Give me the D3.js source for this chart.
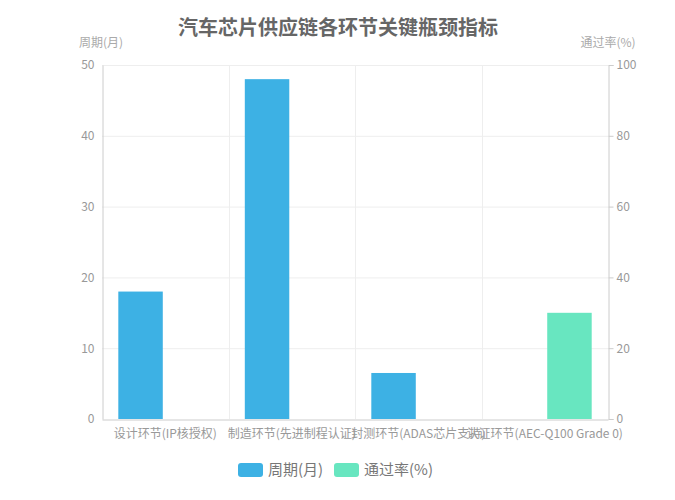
<!DOCTYPE html>
<html>
<head>
<meta charset="utf-8">
<script src="https://cdn.jsdelivr.net/npm/d3@7"></script>
<style>
  body { margin: 0; background: #fff; }
  text { font-family: "Noto Sans CJK SC", "Noto Sans", sans-serif; }
</style>
</head>
<body>
<div id="chart"></div>
<script>
// data
var categories = ['设计环节(IP核授权)', '制造环节(先进制程认证)', '封测环节(ADAS芯片支持)', '认证环节(AEC-Q100 Grade 0)'];
var seriesNames = ['周期(月)', '通过率(%)'];
var periodValues = [18, 48, 6.5, 0];
var passRateValues = [0, 0, 0, 30];
var leftTicks = [0, 10, 20, 30, 40, 50];
var rightTicks = [0, 20, 40, 60, 80, 100];

var colors = ['#3db1e4', '#68e6c0'];
var width = 675, height = 500;
var plotLeft = 102, plotRight = 608, plotTop = 65, plotBottom = 419;

var svg = d3.select('#chart').append('svg')
  .attr('width', width)
  .attr('height', height);

var scaleX = d3.scaleBand().domain(categories).range([plotLeft, plotRight]).padding(0);
var scaleInner = d3.scaleBand().domain(seriesNames)
  .range([0, scaleX.bandwidth()])
  .paddingInner(0.1).paddingOuter(0.33);
var scaleY = d3.scaleLinear().domain([0, 50]).range([plotBottom, plotTop]);
var scaleY2 = d3.scaleLinear().domain([0, 100]).range([plotBottom, plotTop]);

// title
svg.append('text')
  .attr('x', 338).attr('y', 35)
  .attr('text-anchor', 'middle')
  .attr('font-size', 20).attr('font-weight', 'bold')
  .attr('fill', '#666')
  .text('汽车芯片供应链各环节关键瓶颈指标');

// axis names
svg.append('text').attr('x', 101).attr('y', 47).attr('text-anchor', 'middle')
  .attr('font-size', 12).attr('fill', '#aaa').text('周期(月)');
svg.append('text').attr('x', 608).attr('y', 47).attr('text-anchor', 'middle')
  .attr('font-size', 12).attr('fill', '#aaa').text('通过率(%)');

// horizontal grid
svg.append('g').selectAll('line').data(leftTicks.slice(1)).enter().append('line')
  .attr('x1', plotLeft).attr('x2', plotRight)
  .attr('y1', function(d) { return scaleY(d) + 0.5; })
  .attr('y2', function(d) { return scaleY(d) + 0.5; })
  .attr('stroke', '#eee');

// vertical split lines at category boundaries
svg.append('g').selectAll('line').data(categories.slice(1)).enter().append('line')
  .attr('x1', function(d) { return Math.round(scaleX(d)) + 0.5; })
  .attr('x2', function(d) { return Math.round(scaleX(d)) + 0.5; })
  .attr('y1', plotTop).attr('y2', plotBottom)
  .attr('stroke', '#eee');

// bars
var series = [periodValues, passRateValues];
var scales = [scaleY, scaleY2];
series.forEach(function(vals, si) {
  svg.append('g').selectAll('rect').data(vals).enter().append('rect')
    .attr('x', function(d, i) { return scaleX(categories[i]) + scaleInner(seriesNames[si]); })
    .attr('width', scaleInner.bandwidth())
    .attr('y', function(d) { return scales[si](d); })
    .attr('height', function(d) { return plotBottom - scales[si](d); })
    .attr('fill', colors[si]);
});

// left axis
var axL = svg.append('g').attr('transform', 'translate(' + (plotLeft + 0.5) + ',0)')
  .call(d3.axisLeft(scaleY).tickValues(leftTicks).tickSize(0).tickPadding(8));
axL.select('.domain').attr('stroke', '#ccc');
axL.selectAll('text').attr('fill', '#999').attr('font-size', 12);

// right axis
var axR = svg.append('g').attr('transform', 'translate(' + (plotRight + 0.5) + ',0)')
  .call(d3.axisRight(scaleY2).tickValues(rightTicks).tickSize(5).tickPadding(3));
axR.select('.domain').attr('stroke', '#ccc');
axR.selectAll('line').attr('stroke', '#ccc');
axR.selectAll('text').attr('fill', '#999').attr('font-size', 12);

// bottom axis
var axB = svg.append('g').attr('transform', 'translate(0,' + (plotBottom + 0.5) + ')')
  .call(d3.axisBottom(scaleX).tickSize(0).tickPadding(10));
axB.select('.domain').attr('stroke', '#ccc');
axB.selectAll('text').attr('fill', '#999').attr('font-size', 12);

// legend
var legend = svg.append('g');
var legendX = [238, 334];
seriesNames.forEach(function(name, i) {
  legend.append('rect').attr('x', legendX[i]).attr('y', 463)
    .attr('width', 25).attr('height', 14).attr('rx', 3)
    .attr('fill', colors[i]);
  legend.append('text').attr('x', legendX[i] + 30).attr('y', 475)
    .attr('font-size', 15).attr('fill', '#777').text(name);
});
</script>
</body>
</html>
